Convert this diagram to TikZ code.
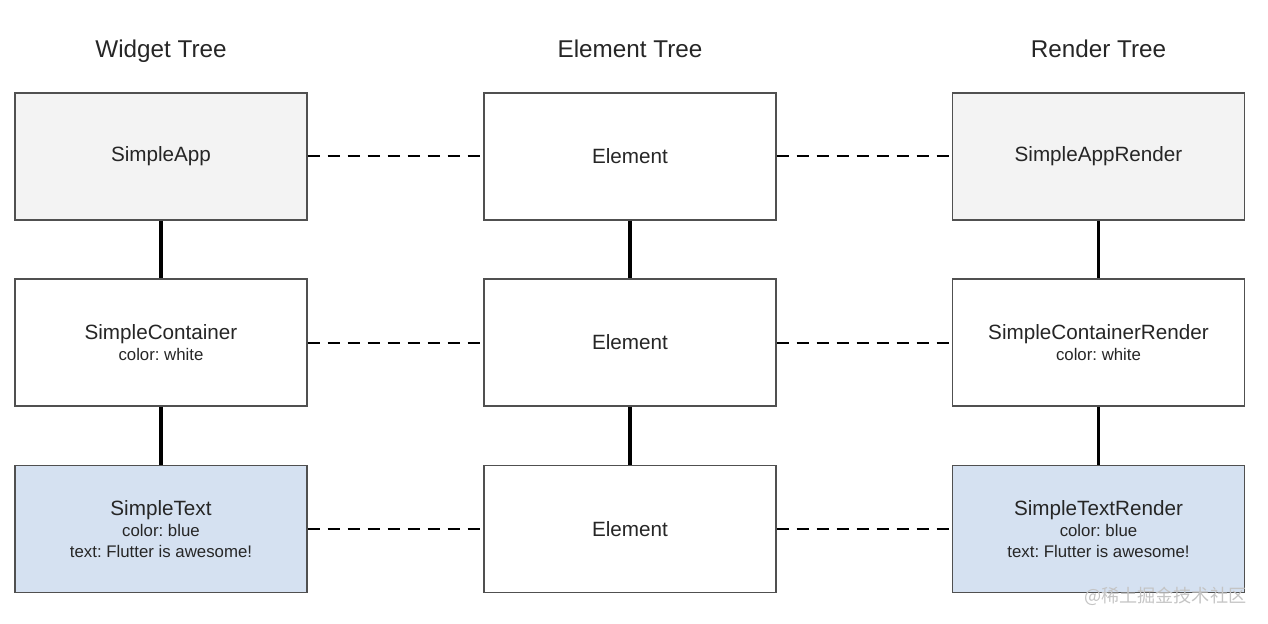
\documentclass[tikz,border=0pt]{standalone}
\usepackage{fontspec}
\setmainfont{Liberation Sans}
\newfontfamily\cjk{Noto Sans CJK SC}
\newcommand\subtxt{\fontsize{12.6}{15.75}\selectfont}
\frenchspacing
\definecolor{boxgray}{HTML}{F3F3F3}
\definecolor{boxblue}{HTML}{D5E1F1}
\definecolor{edge}{HTML}{505050}
\definecolor{wm}{HTML}{C4C4C4}
\begin{document}
\begin{tikzpicture}[x=0.75pt,y=-0.75pt,
  treebox/.style={draw=edge,line width=0.8pt,minimum width=219pt,minimum height=95.25pt,inner sep=0pt,align=center,font=\fontsize{15.5}{15.75}\selectfont,text=black!85},
  graybox/.style={treebox,fill=boxgray},
  bluebox/.style={treebox,fill=boxblue},
  whitebox/.style={treebox,fill=white},
  title/.style={font=\fontsize{18.2}{20}\selectfont,text=black!85,anchor=base},
  link/.style={line width=1.5pt,dash pattern=on 9pt off 6pt},
  tie/.style={line width=2.5pt}]
\useasboundingbox (0,0) rectangle (1268,624);
\node[title] (t1) at (161,58) {Widget Tree};
\node[title] (t2) at (630,58) {Element Tree};
\node[title] (t3) at (1098.5,58) {Render Tree};

\node[graybox] (w1) at (161,156.5) {SimpleApp};
\node[whitebox] (w2) at (161,342.5) {SimpleContainer\\{\subtxt color: white}};
\node[bluebox] (w3) at (161,529) {SimpleText\\{\subtxt color: blue}\\{\subtxt text: Flutter is awesome!}};

\node[whitebox] (e1) at (630,156.5) {Element};
\node[whitebox] (e2) at (630,342.5) {Element};
\node[whitebox] (e3) at (630,529) {Element};

\node[graybox] (r1) at (1098.5,156.5) {SimpleAppRender};
\node[whitebox] (r2) at (1098.5,342.5) {SimpleContainerRender\\{\subtxt color: white}};
\node[bluebox] (r3) at (1098.5,529) {SimpleTextRender\\{\subtxt color: blue}\\{\subtxt text: Flutter is awesome!}};

\foreach \a/\b in {w1/w2,w2/w3,e1/e2,e2/e3,r1/r2,r2/r3}
  \draw[tie] (\a.south) -- (\b.north);
\foreach \a/\b in {w1/e1,w2/e2,w3/e3,e1/r1,e2/r2,e3/r3}
  \draw[link] (\a.east) -- (\b.west);

\node[text=wm,font=\cjk\fontsize{13.6}{15}\selectfont,anchor=east] (wmk) at (1251,596) {@稀土掘金技术社区};
\end{tikzpicture}
\end{document}
